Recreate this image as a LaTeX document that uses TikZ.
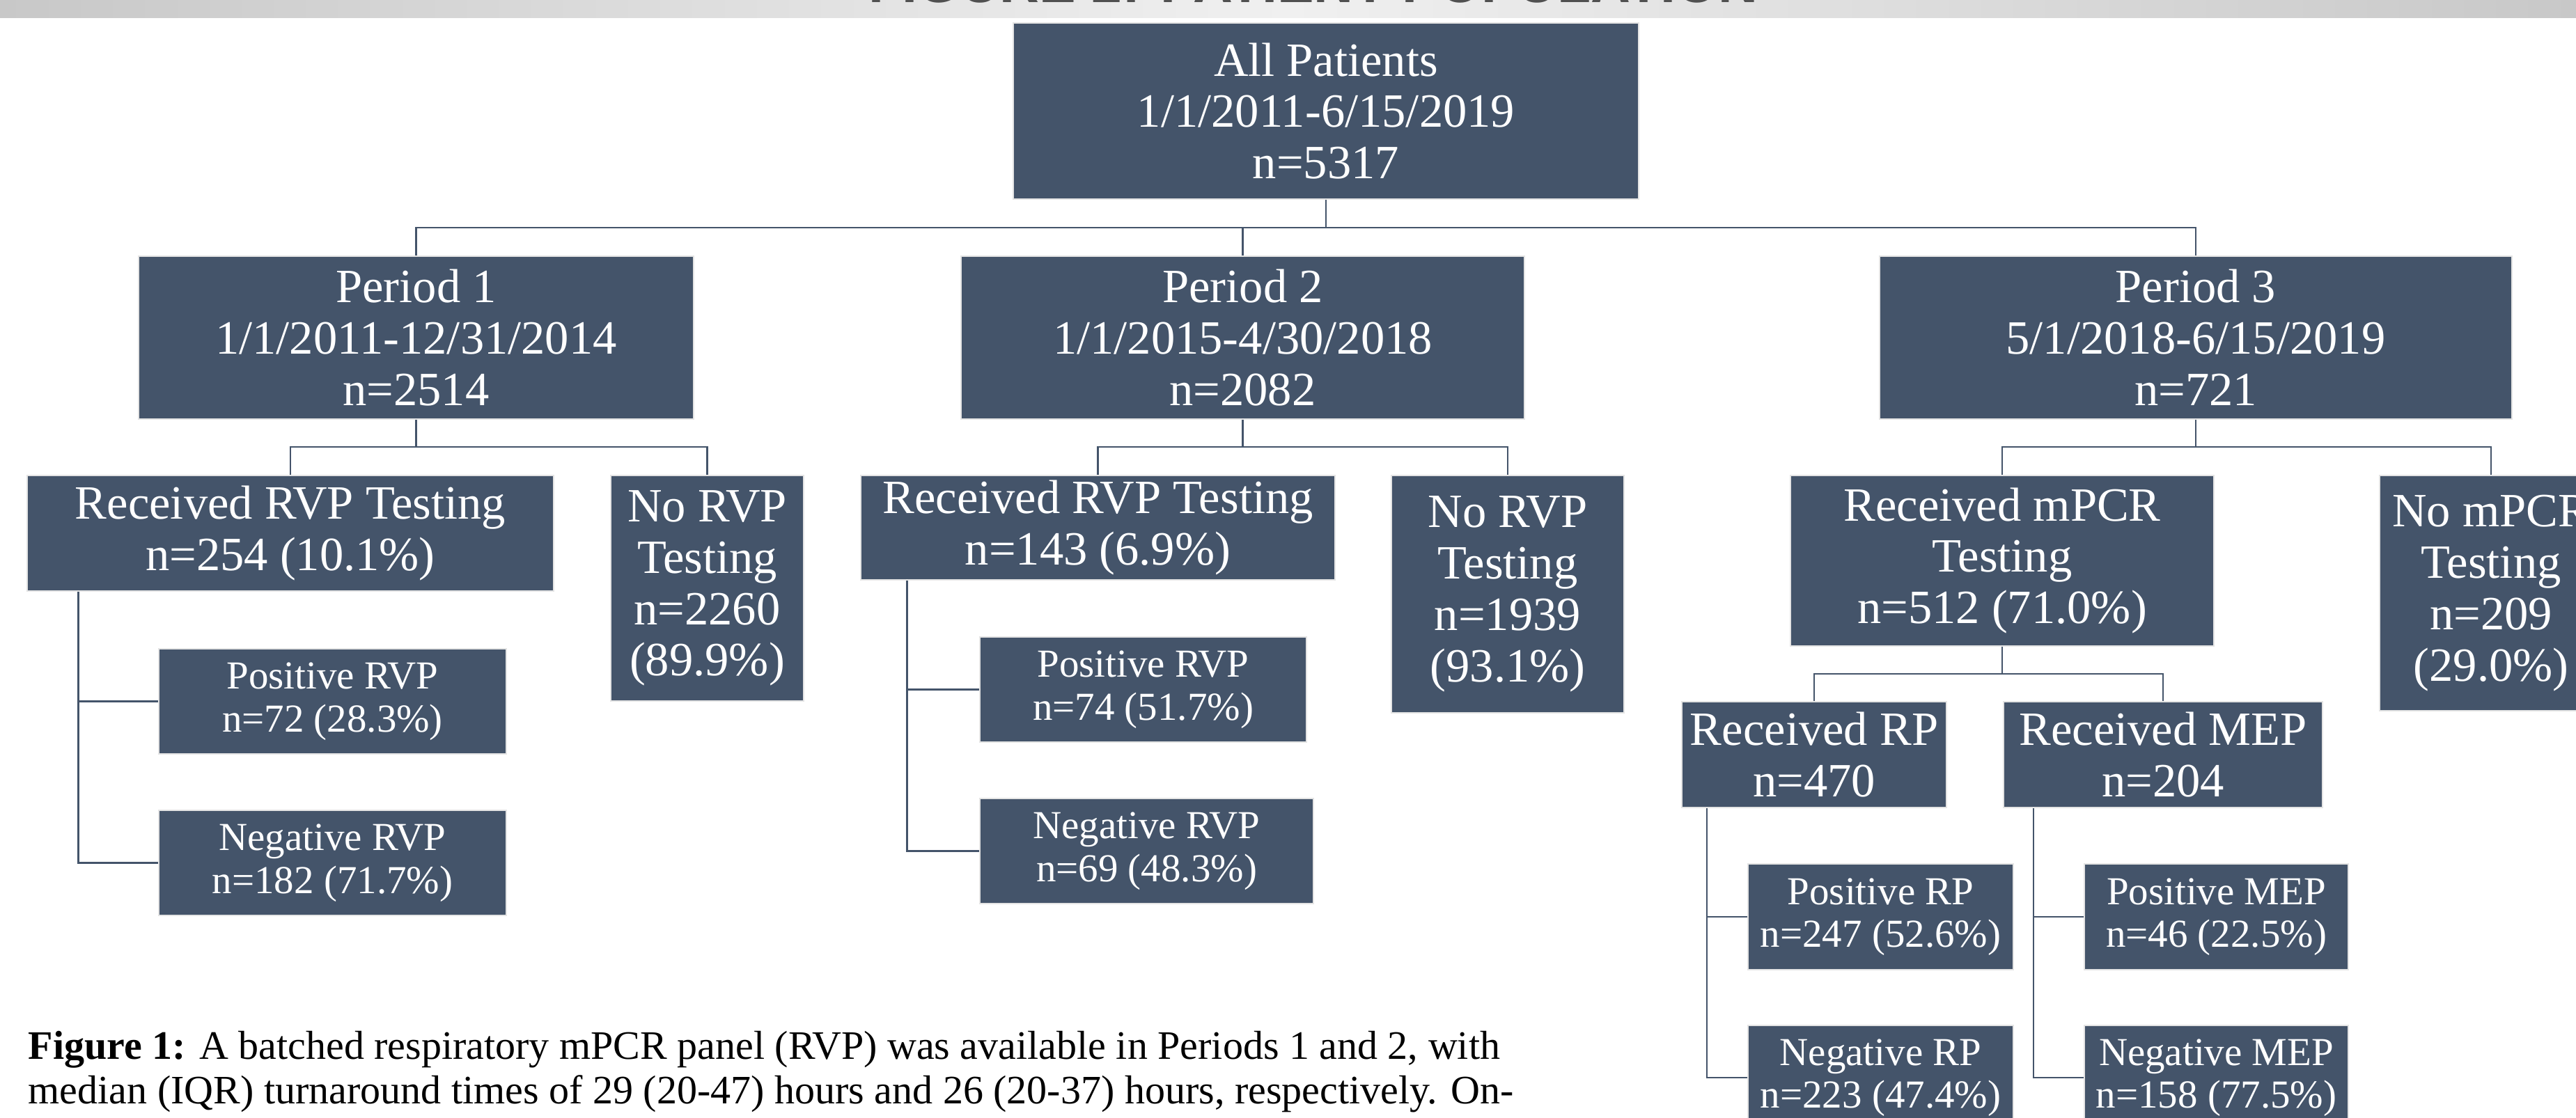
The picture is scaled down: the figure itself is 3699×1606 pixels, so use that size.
\documentclass[tikz,border=0pt]{standalone}
\usepackage{fontspec}
\setmainfont{Liberation Serif}
\newfontfamily\titlefont{Liberation Sans}
\usetikzlibrary{calc}
\definecolor{slate}{HTML}{44546A}
\definecolor{rim}{HTML}{E4E4E4}
\definecolor{bandedge}{HTML}{C8C8C8}
\definecolor{bandmid}{HTML}{F0F0F0}
\definecolor{titlegray}{HTML}{505050}
\begin{document}
\begin{tikzpicture}[x=0.01cm,y=-0.01cm,
  box/.style={rectangle, fill=slate, draw=rim, line width=0.6pt, text=white, align=center, inner sep=0pt},
  bigtxt/.style={font=\fontsize{19.5}{21}\selectfont},
  smalltxt/.style={font=\fontsize{16.2}{17.5}\selectfont},
  conn/.style={draw=slate, line width=0.75pt},
  captxt/.style={anchor=base west, inner sep=0pt, font=\fontsize{16.5}{18}\selectfont}]
\useasboundingbox (0,0) rectangle (3699,1606);
\clip (0,0) rectangle (3699,1606);
% top band
\shade[left color=bandedge, right color=bandedge, middle color=bandmid] (0,0) rectangle (3699,25);
\node[anchor=base, inner sep=0pt, font=\titlefont\bfseries\fontsize{22.4}{24}\selectfont, text=titlegray] (title) at (1886,3.5) {FIGURE 2: PATIENT POPULATION};
% level 0
\node[box, bigtxt, minimum width=8.98cm, minimum height=2.53cm] (all) at (1904,159.5) {All Patients\\1/1/2011-6/15/2019\\n=5317};
% level 1
\node[box, bigtxt, minimum width=7.97cm, minimum height=2.34cm] (p1) at (597.5,485) {Period 1\\1/1/2011-12/31/2014\\n=2514};
\node[box, bigtxt, minimum width=8.09cm, minimum height=2.34cm] (p2) at (1784.5,485) {Period 2\\1/1/2015-4/30/2018\\n=2082};
\node[box, bigtxt, minimum width=9.08cm, minimum height=2.34cm] (p3) at (3153,485) {Period 3\\5/1/2018-6/15/2019\\n=721};
% level 2
\node[box, bigtxt, minimum width=7.56cm, minimum height=1.66cm] (rvp1) at (417,766) {Received RVP Testing\\n=254 (10.1\%)};
\node[box, bigtxt, minimum width=2.77cm, minimum height=3.24cm] (no1) at (1015.5,845) {No RVP\\Testing\\n=2260\\(89.9\%)};
\node[box, bigtxt, minimum width=6.81cm, minimum height=1.50cm] (rvp2) at (1576.5,758) {Received RVP Testing\\n=143 (6.9\%)};
\node[box, bigtxt, minimum width=3.34cm, minimum height=3.41cm] (no2) at (2165,853.5) {No RVP\\Testing\\n=1939\\(93.1\%)};
\node[box, bigtxt, minimum width=6.08cm, minimum height=2.45cm] (mpcr) at (2875,805.5) {Received mPCR\\Testing\\n=512 (71.0\%)};
\node[box, bigtxt, minimum width=3.20cm, minimum height=3.38cm] (nompcr) at (3577,852) {No mPCR\\Testing\\n=209\\(29.0\%)};
% level 3
\node[box, smalltxt, minimum width=4.99cm, minimum height=1.51cm] (pos1) at (477.5,1007.5) {Positive RVP\\n=72 (28.3\%)};
\node[box, smalltxt, minimum width=4.99cm, minimum height=1.51cm] (neg1) at (477.5,1239.5) {Negative RVP\\n=182 (71.7\%)};
\node[box, smalltxt, minimum width=4.69cm, minimum height=1.51cm] (pos2) at (1641.5,990.5) {Positive RVP\\n=74 (51.7\%)};
\node[box, smalltxt, minimum width=4.79cm, minimum height=1.51cm] (neg2) at (1646.5,1222.5) {Negative RVP\\n=69 (48.3\%)};
\node[box, bigtxt, minimum width=3.80cm, minimum height=1.52cm] (rp) at (2605,1084) {Received RP\\n=470};
\node[box, bigtxt, minimum width=4.58cm, minimum height=1.52cm] (mep) at (3106,1084) {Received MEP\\n=204};
% level 4
\node[box, smalltxt, minimum width=3.81cm, minimum height=1.52cm] (posrp) at (2700.5,1317) {Positive RP\\n=247 (52.6\%)};
\node[box, smalltxt, minimum width=3.81cm, minimum height=1.50cm] (negrp) at (2700.5,1548) {Negative RP\\n=223 (47.4\%)};
\node[box, smalltxt, minimum width=3.79cm, minimum height=1.52cm] (posmep) at (3182.5,1317) {Positive MEP\\n=46 (22.5\%)};
\node[box, smalltxt, minimum width=3.79cm, minimum height=1.50cm] (negmep) at (3182.5,1548) {Negative MEP\\n=158 (77.5\%)};
% connectors
\coordinate (busA) at (0,327);
\coordinate (busB) at (0,642);
\coordinate (busC) at (0,968);
\draw[conn] (all.south) -- (all.south |- busA) -| (p1.north);
\draw[conn] (all.south |- busA) -| (p2.north);
\draw[conn] (all.south |- busA) -| (p3.north);
\draw[conn] (p1.south) -- (p1.south |- busB) -| (rvp1.north);
\draw[conn] (p1.south |- busB) -| (no1.north);
\draw[conn] (p2.south) -- (p2.south |- busB) -| (rvp2.north);
\draw[conn] (p2.south |- busB) -| (no2.north);
\draw[conn] (p3.south) -- (p3.south |- busB) -| (mpcr.north);
\draw[conn] (p3.south |- busB) -| (nompcr.north);
\draw[conn] (mpcr.south) -- (mpcr.south |- busC) -| (rp.north);
\draw[conn] (mpcr.south |- busC) -| (mep.north);
\coordinate (b1) at ($(rvp1.south west)+(75,0)$);
\coordinate (b2) at ($(rvp2.south west)+(68,0)$);
\coordinate (b3) at ($(rp.south west)+(37,0)$);
\coordinate (b4) at ($(mep.south west)+(44,0)$);
\draw[conn] (b1) |- (pos1.west);
\draw[conn] (b1) |- (neg1.west);
\draw[conn] (b2) |- (pos2.west);
\draw[conn] (b2) |- (neg2.west);
\draw[conn] (b3) |- (posrp.west);
\draw[conn] (b3) |- (negrp.west);
\draw[conn] (b4) |- (posmep.west);
\draw[conn] (b4) |- (negmep.west);
% caption
\node[captxt] (cap1) at (40,1521) {\textbf{Figure 1:} A batched respiratory mPCR panel (RVP) was available in Periods 1 and 2, with};
\node[captxt] (cap2) at (40,1585) {median (IQR) turnaround times of 29 (20-47) hours and 26 (20-37) hours, respectively. On-};
\end{tikzpicture}
\end{document}
